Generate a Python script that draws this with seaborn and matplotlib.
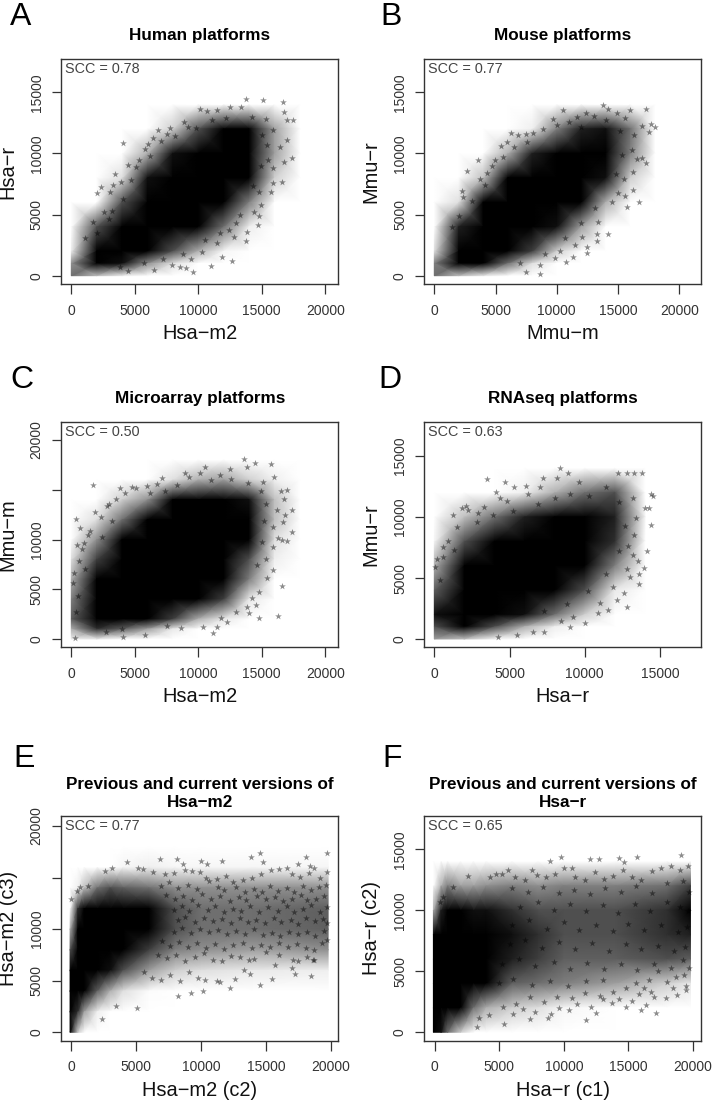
import matplotlib
matplotlib.use('Agg')
import matplotlib.pyplot as plt
import seaborn as sns

# all values are read by eye from the picture
# the clouds hold thousands of stars, so the dense part is a coarse table of how dark
# the cloud looks at each grid node (0 white, 1 black); single stars go on top as (x, y)
grid_x = [0, 2000, 4000, 6000, 8000, 10000, 12000, 14000, 16000, 18000]
y_low_14k = [14000, 12000, 10000, 8000, 6000, 4000, 2000, 1000, 0]
y_low_18k = [18000, 16000, 14000, 12000, 10000, 8000, 6000, 4000, 2000, 1000, 0]
y_to_14k = [14000, 12000, 10000, 8000, 6000, 4000, 2000, 0]
y_to_18k = [18000, 16000, 14000, 12000, 10000, 8000, 6000, 4000, 2000, 0]

a_dark = [[0, 0, 0, 0, 0, 0, .03, .05, .03, 0],
          [0, 0, 0, 0, .2, .6, .85, .85, .35, 0],
          [0, 0, 0, .3, .8, 1, 1, 1, .35, 0],
          [0, 0, .15, .8, 1, 1, 1, .9, .2, 0],
          [0, .05, .6, 1, 1, 1, .95, .45, .05, 0],
          [0, .6, 1, 1, 1, .9, .5, .1, 0, 0],
          [.1, 1, 1, .95, .6, .3, .08, 0, 0, 0],
          [.4, .95, .8, .4, .15, .03, 0, 0, 0, 0],
          [.5, .25, .1, .04, 0, 0, 0, 0, 0, 0]]
a_stars = [(4070, 10840), (2020, 6740), (2310, 7290), (3070, 6880), (3410, 8350), (3310, 7400), (4490, 9060),
           (5100, 8900), (6060, 10760), (6460, 11250), (6800, 11930), (7770, 12070), (7500, 11600), (8870, 12530),
           (10130, 13650), (10660, 13430), (11450, 13570), (12500, 13790), (13400, 13790), (13750, 14470),
           (15070, 14390), (16700, 14170), (16750, 13350), (16960, 12700), (17430, 12700), (17010, 11110),
           (17350, 9660), (16770, 9280), (16620, 7700), (15900, 7620), (15700, 6830), (14800, 6880), (14800, 4890),
           (14730, 4120), (13730, 2840), (13800, 3600), (12840, 3190), (12680, 1230), (11890, 1560), (10970, 820),
           (9610, 330), (9030, 600), (8560, 740), (1700, 4400), (2600, 5200), (1100, 3100), (3200, 5300),
           (5800, 10400), (4700, 7800), (3900, 7700), (7100, 11000), (9200, 12200), (9800, 12100), (15300, 12800),
           (15900, 11900), (16400, 10500), (15500, 9500), (15900, 8800), (14900, 5800), (14400, 5200), (13300, 5000),
           (12400, 3700), (11500, 2700), (10300, 1900), (9400, 1400), (7900, 900), (6500, 500), (4500, 350),
           (5300, 9500), (6200, 9800), (8200, 11400), (11100, 12700), (12200, 12900), (14200, 13000), (15000, 11500),
           (15400, 10700), (14900, 9000), (14300, 7300), (13000, 4300), (11700, 3500), (10500, 2900), (8800, 1800),
           (7200, 1400), (5700, 1000), (3800, 700), (2000, 3500), (3000, 4600), (4100, 6300)]

b_dark = [[0, 0, 0, 0, 0, 0, 0, .05, 0, 0],
          [0, 0, 0, 0, .1, .45, .75, .8, .5, .05],
          [0, 0, 0, .3, .75, .95, 1, .95, .45, 0],
          [0, 0, .25, .85, 1, 1, 1, .8, .2, 0],
          [0, .15, .85, 1, 1, 1, .85, .3, .03, 0],
          [0, .75, 1, 1, 1, .8, .35, .05, 0, 0],
          [.15, 1, 1, 1, .65, .2, .05, 0, 0, 0],
          [.45, .95, .85, .5, .15, .02, 0, 0, 0, 0],
          [.5, .25, .12, .05, 0, 0, 0, 0, 0, 0]]
b_stars = [(2640, 8570), (3590, 9470), (4950, 9470), (4270, 8380), (2370, 6470), (1410, 4010), (6230, 11660),
           (6800, 11520), (7450, 11600), (8080, 11660), (5440, 10570), (5900, 10970), (9660, 12830), (10470, 13570),
           (11610, 13020), (12380, 13300), (13740, 13980), (14200, 13650), (15970, 13570), (14930, 13300),
           (17270, 13650), (17680, 12390), (18030, 12200), (17540, 11790), (16970, 12260), (17270, 9200),
           (16920, 9610), (16510, 9530), (16240, 8520), (16240, 7020), (16730, 6010), (15560, 6520), (15700, 5650),
           (14200, 3410), (13300, 3410), (13250, 2870), (12480, 2380), (12430, 1830), (12020, 3140), (10740, 1150),
           (9850, 1420), (8620, 110), (7450, 270), (8620, 870), (11340, 1560), (2300, 6900), (3700, 7900),
           (4700, 9000), (5600, 9700), (8900, 12000), (10000, 12300), (11000, 12600), (13000, 13100), (15600, 12900),
           (16300, 11500), (16100, 10300), (15500, 7900), (15000, 6800), (14500, 6000), (13400, 4400), (11500, 2500),
           (10300, 2000), (6500, 10500), (7600, 10900), (12000, 12200), (14000, 12700), (15200, 11800), (15300, 9900),
           (14800, 8300), (13100, 5500), (12000, 4300), (10700, 3100), (9000, 1800), (7000, 1000), (3100, 6100),
           (2000, 4900), (4100, 7400)]

c_dark = [[0, 0, 0, 0, 0, 0, 0, .03, 0, 0],
          [0, 0, 0, .05, .15, .3, .35, .2, .1, 0],
          [0, .02, .2, .4, .85, 1, 1, .8, .25, .02],
          [0, .15, .5, .9, 1, 1, 1, .95, .25, .03],
          [.05, .4, .85, 1, 1, 1, 1, .85, .15, .03],
          [.15, .65, 1, 1, 1, 1, 1, .6, .1, 0],
          [.3, .85, 1, 1, 1, 1, .95, .45, .03, 0],
          [.45, .95, 1, 1, 1, .9, .65, .12, 0, 0],
          [.55, 1, .95, .85, .65, .3, .12, .03, 0, 0],
          [.3, .7, .55, .35, .12, .05, .02, 0, 0, 0],
          [.1, .12, .06, .02, 0, 0, 0, 0, 0, 0]]
c_stars = [(1730, 15480), (340, 12060), (680, 11120), (1860, 12800), (420, 9450), (810, 9010), (210, 6600), (160, 5660),
           (3830, 15140), (4750, 15240), (5090, 15140), (4230, 14710), (2780, 13370), (1340, 10450), (5930, 15380),
           (6720, 15580), (7110, 16150), (8950, 16650), (10130, 16720), (10530, 17250), (12500, 17050), (13620, 18060),
           (13810, 17250), (14460, 17720), (15720, 17550), (15960, 16250), (15120, 15740), (16490, 14870),
           (17010, 14970), (16750, 14040), (17400, 12960), (16830, 12460), (16700, 11790), (17350, 10790),
           (17010, 9850), (16560, 9950), (16300, 10120), (15860, 9280), (15860, 6930), (15380, 6100), (16620, 5360),
           (16300, 2310), (14780, 2140), (14020, 2580), (14540, 3420), (13860, 3180), (14200, 4090), (11180, 570),
           (11450, 1240), (12230, 1740), (10400, 1240), (5800, 400), (4100, 230), (290, 70), (2300, 12300),
           (3000, 13600), (1500, 10900), (1000, 9600), (16200, 13000), (15900, 11300), (15300, 8000), (14800, 4700),
           (13000, 2700), (11800, 2100), (8600, 1100), (7500, 1300), (3500, 14100), (9300, 16300), (11700, 16500),
           (6200, 14700), (7400, 14900), (8300, 15500), (11000, 16000), (12600, 16100), (13900, 15700), (14900, 14900),
           (15300, 13600), (15200, 11900), (15000, 9700), (14600, 7400), (600, 7800), (1100, 7000), (2400, 10300),
           (3200, 11900), (500, 4300), (400, 2700), (2700, 700), (4000, 1000)]

d_x = [0, 2000, 4000, 6000, 8000, 10000, 12000, 14000]
d_dark = [[0, 0, 0, 0, .03, 0, 0, 0],
          [0, 0, .03, .1, .3, .5, .6, .05],
          [0, .25, .5, .75, .85, .9, .75, .08],
          [.08, .6, 1, 1, .95, .95, .7, .03],
          [.3, .95, 1, 1, .95, .85, .45, .05],
          [.55, 1, 1, 1, .85, .6, .12, .01],
          [.8, 1, 1, .8, .5, .2, .03, 0],
          [.6, .85, .6, .3, .1, .03, 0, 0],
          [.35, .25, .08, .03, 0, 0, 0, 0]]
d_stars = [(70, 5920), (200, 6550), (600, 6740), (550, 7560), (1260, 10160), (1820, 10760), (2100, 10920), (3480, 13100),
           (4700, 12890), (5290, 12480), (6070, 12530), (7240, 13160), (8350, 13980), (8900, 13570), (8130, 13160),
           (7020, 12480), (4100, 12070), (4360, 11600), (2810, 9610), (2260, 10570), (3300, 10840), (12230, 13620),
           (12820, 13620), (13270, 13650), (13820, 13570), (14380, 11850), (14510, 11740), (14000, 10700),
           (14240, 10700), (14380, 9340), (14150, 7230), (13560, 6390), (13950, 5840), (13220, 6880), (13620, 5320),
           (13620, 4480), (12780, 5710), (13000, 5100), (12630, 3790), (12780, 2650), (12120, 3190), (11560, 2380),
           (10900, 2100), (11010, 2920), (10010, 1280), (9010, 1010), (7310, 550), (6580, 600), (5470, 330),
           (4250, 190), (1500, 9200), (900, 8000), (2900, 10300), (4800, 11300), (6200, 11900), (9600, 12900),
           (13200, 11600), (13400, 9900), (13300, 8500), (12900, 7600), (11900, 4300), (9200, 1800), (8400, 1500),
           (3900, 10200), (5200, 10500), (6900, 11100), (8000, 11600), (9000, 11900), (10300, 11700), (11400, 12500),
           (12300, 11200), (12700, 9300), (12300, 7200), (11400, 5300), (10200, 3900), (8800, 2900), (7300, 2300),
           (1300, 7300), (400, 4800)]

e_x = [-100, 500, 1000, 2000, 3000, 4000, 6000, 8000, 10000, 14000, 19800]
e_dark = [[0, 0, 0, 0, 0, 0, 0, 0, 0, 0, 0],
          [0, 0, 0, 0, .03, .08, .1, .08, .08, .08, .08],
          [0, .1, .25, .5, .6, .55, .5, .4, .4, .4, .4],
          [.05, .7, .95, 1, 1, 1, .85, .6, .5, .5, .55],
          [.3, 1, 1, 1, 1, 1, .9, .6, .5, .5, .55],
          [.6, 1, 1, 1, 1, .95, .65, .45, .4, .35, .4],
          [.85, 1, 1, 1, .8, .6, .35, .2, .15, .12, .1],
          [.95, 1, .9, .55, .3, .15, .06, .02, .02, .02, .01],
          [1, .7, .35, .1, .05, .02, 0, 0, 0, 0, 0],
          [.9, .2, .03, 0, 0, 0, 0, 0, 0, 0, 0]]
e_stars = [(19690, 17410), (14550, 17350), (13850, 17020), (14800, 16540), (18070, 17020), (17450, 16280), (18400, 16120),
           (11590, 16630), (10000, 16630), (10490, 16280), (8120, 16800), (6860, 16800), (8580, 16310), (4320, 16470),
           (2600, 15670), (3160, 15890), (460, 13700), (1260, 14210), (670, 14050), (0, 12920), (5040, 2390), (2390, 1260),
           (3420, 2550), (8250, 3520), (9200, 3780), (10130, 4040), (12230, 4260), (14550, 4590), (15450, 5200),
           (18450, 5460), (17250, 5650), (16990, 6200), (15700, 6520), (19690, 8950),
           (5100, 15900), (5500, 15800), (6300, 15500), (7200, 15300), (7900, 15400), (8800, 15700), (9300, 15600),
           (9900, 15500), (10400, 15000), (11200, 14900), (11900, 15200), (12500, 14600), (13200, 14800), (13900, 15000),
           (14600, 15300), (15400, 15700), (16000, 15800), (16600, 15900), (17000, 15300), (17600, 15100), (18300, 15400),
           (18700, 15900), (19200, 15000), (19700, 15500),
           (6900, 14200), (7500, 14600), (8200, 14000), (9000, 14300), (9700, 13900), (10600, 14700), (11300, 14100),
           (11800, 13800), (12700, 14100), (13400, 13600), (14100, 13900), (14700, 13600), (15300, 14200), (15900, 13700),
           (16600, 14000), (17200, 13600), (17900, 14200), (18500, 13800), (19100, 14100), (19600, 14300),
           (7300, 13300), (8000, 12900), (8600, 13200), (9300, 12800), (10100, 13400), (10800, 12900), (11500, 13200),
           (12200, 12700), (12900, 13100), (13500, 12800), (14300, 13200), (15000, 12900), (15700, 13100), (16300, 12700),
           (17000, 12900), (17700, 13300), (18200, 12800), (18900, 12900), (19500, 13200),
           (7900, 11900), (8500, 12200), (9100, 11800), (9800, 12300), (10500, 11900), (11100, 12200), (11800, 11700),
           (12500, 12000), (13100, 11800), (13800, 12200), (14500, 11700), (15200, 12100), (15900, 11800), (16600, 12200),
           (17200, 11700), (17900, 12000), (18500, 12300), (19200, 11700), (19700, 12100),
           (8200, 10900), (8800, 11200), (9500, 10700), (10200, 11100), (10900, 10800), (11600, 11000), (12300, 10600),
           (13000, 11100), (13600, 10700), (14200, 10900), (14900, 10600), (15600, 11100), (16200, 10700), (16900, 10900),
           (17500, 10500), (18100, 11100), (18800, 10800), (19400, 11000), (19700, 10600),
           (7900, 9700), (8500, 10100), (9200, 9600), (9900, 10000), (10600, 9700), (11300, 9900), (12000, 9500),
           (12700, 9800), (13400, 9500), (14100, 10000), (14800, 9400), (15500, 9600), (16100, 9300), (16800, 9700),
           (17500, 9500), (18200, 9700), (18800, 9300), (19500, 9800),
           (7000, 8900), (7600, 8400), (8300, 8800), (9000, 8300), (9700, 8700), (10400, 8200), (11100, 8600),
           (11800, 8100), (12500, 8500), (13200, 8700), (13900, 8200), (14600, 8500), (15300, 8300), (16000, 8700),
           (16700, 8300), (17400, 8600), (18100, 8200), (18700, 8000), (19300, 8700),
           (6700, 7500), (7400, 7200), (8100, 7500), (8800, 6900), (9500, 7300), (10200, 7700), (10900, 7000),
           (11600, 6900), (12300, 7400), (13000, 7300), (13700, 7000), (14100, 7100), (15000, 7800), (16000, 7500),
           (17100, 7000), (17500, 6900), (18200, 7300), (18600, 7000), (18700, 7000),
           (5600, 5800), (6200, 5300), (6900, 5100), (7600, 5600), (8400, 5000), (9100, 5800), (9800, 5300),
           (10300, 5100), (11200, 5000), (11500, 4900), (12600, 5200), (13300, 6000), (13800, 5700)]

f_x = [-100, 500, 1000, 2000, 3000, 4000, 6000, 8000, 10000, 14000, 18000, 19800]
f_dark = [[0, 0, 0, 0, 0, 0, 0, .02, .03, .05, .05, .03],
          [0, .3, .45, .35, .35, .4, .45, .4, .45, .45, .5, .65],
          [.3, .75, .85, .85, .8, .8, .7, .6, .6, .6, .7, .85],
          [.85, 1, 1, 1, 1, .95, .8, .7, .6, .6, .7, .75],
          [.95, 1, 1, 1, 1, .95, .75, .65, .55, .55, .6, .55],
          [1, 1, 1, 1, 1, .85, .55, .5, .45, .35, .2, .12],
          [1, 1, 1, .95, .5, .3, .2, .15, .08, .05, .02, 0],
          [.9, .8, .5, .2, .03, .02, 0, 0, 0, 0, 0, 0]]
f_stars = [(19030, 14500), (15680, 14390), (14270, 14250), (14630, 13980), (12720, 14170), (12000, 14170), (9810, 14390),
           (8910, 14030), (10020, 13430), (10640, 13490), (7570, 13300), (5690, 13300), (4270, 12750), (4710, 12970),
           (5180, 12970), (2600, 12800), (410, 10700), (670, 11110), (1440, 11930), (17150, 1560), (5380, 650), (3240, 460),
           (7360, 1060), (8780, 1150), (11740, 1010), (12510, 1560), (14830, 2100), (15990, 1830), (16380, 2240),
           (17920, 2780), (18750, 3060), (19470, 3470), (19470, 3790), (18440, 3660), (16760, 3330),
           (6200, 12700), (7000, 12500), (7900, 12900), (8600, 12700), (9300, 13000), (10900, 12700), (11600, 12500),
           (12400, 13100), (13100, 12600), (13800, 12800), (14600, 13300), (15300, 12700), (16000, 12500), (16800, 13200),
           (17500, 13500), (18300, 13600), (19000, 13300), (19600, 13600),
           (6100, 1500), (6800, 1900), (7800, 1700), (9000, 1500), (9600, 2000), (10400, 1800), (11000, 2300), (12100, 2100),
           (13000, 2700), (13700, 2400), (14300, 2700), (15300, 2600), (15800, 3100), (16200, 3600), (17000, 2900),
           (18000, 4100), (18700, 4500), (19300, 4700), (19700, 5300), (19200, 5900), (18300, 5300), (17300, 5000),
           (16600, 4300), (15600, 4000), (14800, 3600), (13800, 3300), (12800, 3000), (11600, 3200), (10600, 2800),
           (9500, 2900), (8500, 2500), (7400, 2900), (6300, 2300), (5300, 2100), (4200, 1400), (3400, 1200),
           (6000, 11800), (7200, 11500), (8400, 11900), (9600, 11400), (10800, 11700), (12000, 11300), (13200, 11800),
           (14400, 11500), (15600, 12000), (16800, 11400), (18000, 12200), (19200, 12400), (19700, 11500),
           (6600, 10300), (8000, 10700), (9200, 10000), (10500, 10500), (11700, 9900), (13000, 10400), (14200, 9800),
           (15500, 10500), (16700, 9900), (18000, 10700), (19000, 10300), (19600, 9900),
           (6000, 8800), (7300, 9200), (8700, 8500), (10000, 9000), (11200, 8400), (12500, 8800), (13800, 8300),
           (15000, 8900), (16200, 8400), (17500, 8800), (18800, 8200), (19500, 8600),
           (5800, 7200), (7000, 7600), (8300, 6900), (9600, 7400), (10900, 6800), (12200, 7300), (13500, 6700),
           (14800, 7200), (16000, 6800), (17300, 7100), (18500, 6700), (19400, 7000),
           (5200, 5600), (6500, 6000), (7800, 5400), (9200, 5800), (10500, 5200), (11800, 5700), (13100, 5200),
           (14400, 5600), (15700, 5100), (17000, 5600),
           (5000, 4000), (6100, 4400), (7500, 3900), (8900, 4200), (10300, 3800), (11700, 4200), (13000, 4300)]

panels = [
    dict(letter='A', title='Human platforms', scc='SCC = 0.78', xlabel='Hsa\u2212m2', ylabel='Hsa\u2212r',
         box=(61, 338.5, 59, 284.3), xlim=(-811, 21040), ylim=(-703, 17723), xmax=20000, y20=False, pad=14,
         gx=grid_x, gy=y_low_14k, dark=a_dark, stars=a_stars, letter_xy=(10, 25)),
    dict(letter='B', title='Mouse platforms', scc='SCC = 0.77', xlabel='Mmu\u2212m', ylabel='Mmu\u2212r',
         box=(424.3, 701.3, 59, 284.3), xlim=(-816, 21796), ylim=(-703, 17723), xmax=20000, y20=False, pad=14,
         gx=grid_x, gy=y_low_14k, dark=b_dark, stars=b_stars, letter_xy=(380, 25)),
    dict(letter='C', title='Microarray platforms', scc='SCC = 0.50', xlabel='Hsa\u2212m2', ylabel='Mmu\u2212m',
         box=(61, 338.5, 422, 647.3), xlim=(-811, 21040), ylim=(-834, 21809), xmax=20000, y20=True, pad=14,
         gx=grid_x, gy=y_low_18k, dark=c_dark, stars=c_stars, letter_xy=(10, 388)),
    dict(letter='D', title='RNAseq platforms', scc='SCC = 0.63', xlabel='Hsa\u2212r', ylabel='Mmu\u2212r',
         box=(424.3, 701.3, 422, 647.3), xlim=(-665, 17740), ylim=(-680, 17790), xmax=15000, y20=False, pad=14,
         gx=d_x, gy=y_low_14k, dark=d_dark, stars=d_stars, letter_xy=(378, 388)),
    dict(letter='E', title='Previous and current versions of\nHsa\u2212m2', scc='SCC = 0.77', xlabel='Hsa\u2212m2 (c2)',
         ylabel='Hsa\u2212m2 (c3)', box=(61, 338.5, 815.7, 1040.7), xlim=(-800, 20600), ylim=(-814, 21000), xmax=20000,
         y20=True, pad=6.5, gx=e_x, gy=y_to_18k, dark=e_dark, stars=e_stars, letter_xy=(13, 767)),
    dict(letter='F', title='Previous and current versions of\nHsa\u2212r', scc='SCC = 0.65', xlabel='Hsa\u2212r (c1)',
         ylabel='Hsa\u2212r (c2)', box=(424.3, 701.3, 815.7, 1040.7), xlim=(-804, 20640), ylim=(-690, 17750), xmax=20000,
         y20=False, pad=6.5, gx=f_x, gy=y_to_14k, dark=f_dark, stars=f_stars, letter_xy=(382, 767)),
]

sns.set_theme(style='white')
plt.rcParams['font.family'] = ['Liberation Sans', 'DejaVu Sans']

W, H = 713, 1102
fig = plt.figure(figsize=(W / 100, H / 100), dpi=100)

for p in panels:
    left, right, top, bottom = p['box']
    ax = fig.add_axes([left / W, 1 - bottom / H, (right - left) / W, (bottom - top) / H])

    # dense part of the cloud, then the single stars on top
    ax.pcolormesh(p['gx'], p['gy'], p['dark'], shading='gouraud', cmap='gray_r', vmin=0.05, vmax=0.85)
    sx, sy = zip(*p['stars'])
    sns.scatterplot(x=list(sx), y=list(sy), marker='*', s=26, color='black', alpha=0.45, linewidth=0, ax=ax)

    ax.set_xlim(*p['xlim'])
    ax.set_ylim(*p['ylim'])
    ax.set_xticks(range(0, p['xmax'] + 1, 5000))
    yticks = list(range(0, 20001 if p['y20'] else 15001, 5000))
    ax.set_yticks(yticks)
    ax.set_yticklabels(['' if (p['y20'] and v == 15000) else str(v) for v in yticks],
                       rotation=90, va='center', fontsize=10)
    ax.tick_params(axis='x', length=7, width=0.9, color='#333333', labelcolor='#333333', labelsize=10, pad=7, bottom=True)
    ax.tick_params(axis='y', length=6.5, width=0.9, color='#333333', labelcolor='#333333', pad=6, left=True)
    for s in ax.spines.values():
        s.set_color('#333333')
        s.set_linewidth(1.0)

    ax.set_title(p['title'], fontsize=12.3, fontweight='bold', color='black', pad=p['pad'], linespacing=1.2)
    ax.set_xlabel(p['xlabel'], fontsize=14.4, color='#111111', va='center')
    ax.set_ylabel(p['ylabel'], fontsize=14.4, color='#111111', va='center')
    ax.xaxis.set_label_coords(0.5, -49.5 / (bottom - top))
    ax.yaxis.set_label_coords(-53 / (right - left), 0.5)
    ax.text(4 / (right - left), 1 - 10 / (bottom - top), p['scc'], transform=ax.transAxes, fontsize=10.4,
            color='#444444', va='center', ha='left')

    fig.text(p['letter_xy'][0] / W, 1 - p['letter_xy'][1] / H, p['letter'], fontsize=23, color='black',
             ha='left', va='baseline')

fig.savefig('out.png', dpi=100)
